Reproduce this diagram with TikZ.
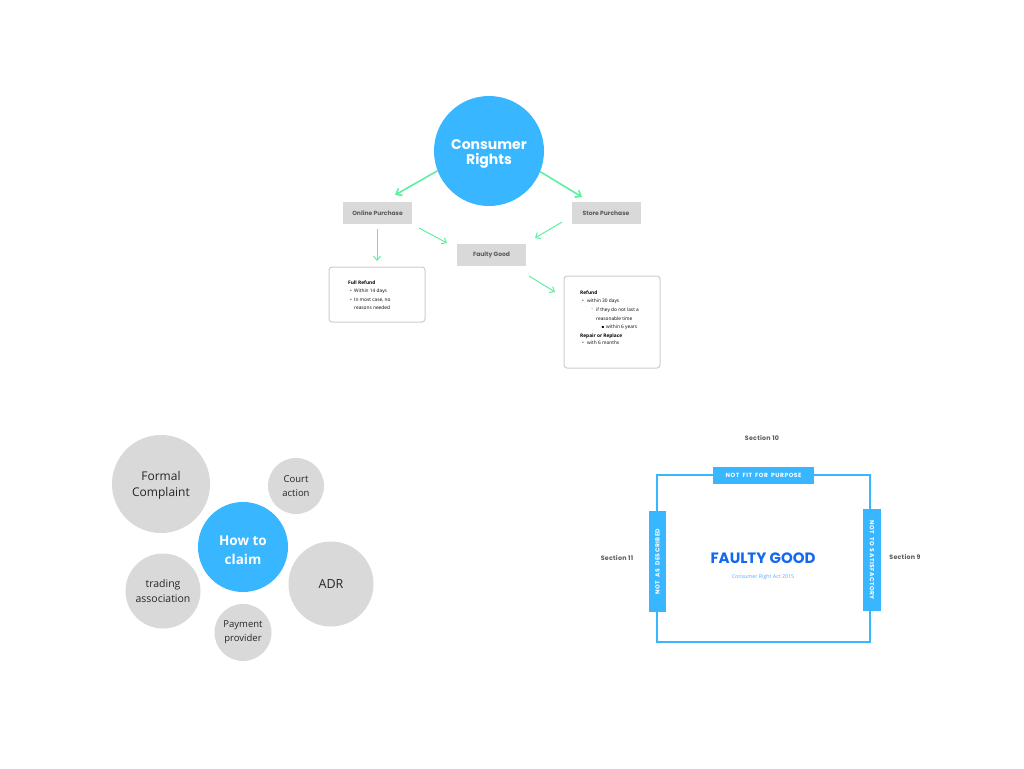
\documentclass[tikz,border=0pt]{standalone}
\usepackage{fontspec}
\setmainfont{Open Sans}
\newfontfamily\pop{Poppins}
\newfontfamily\popsp{Poppins}[LetterSpace=8,WordSpace=1.8]
\newfontfamily\popse{Poppins}[LetterSpace=4]
\newfontfamily\djv{DejaVu Sans}
\usetikzlibrary{arrows.meta}
\definecolor{skyblue}{RGB}{56,182,255}
\definecolor{boxgray}{RGB}{217,217,217}
\definecolor{labgray}{RGB}{90,90,90}
\definecolor{mint}{RGB}{94,240,160}
\definecolor{deepblue}{RGB}{20,104,240}
\definecolor{lightblue}{RGB}{90,168,255}
\definecolor{bordergray}{RGB}{205,205,205}
\begin{document}
\begin{tikzpicture}[x=1pt,y=-1pt,
  gbox/.style={fill=boxgray, minimum width=69pt, minimum height=22pt, inner sep=0pt,
    font=\pop\bfseries\fontsize{6}{7}\selectfont, text=labgray},
  card/.style={draw=bordergray, line width=1pt, rounded corners=3pt, fill=white},
  flow/.style={draw=mint, line width=1.6pt, -{Straight Barb[length=5pt,width=8pt]}},
  flowthin/.style={draw=mint, line width=1pt, -{Straight Barb[length=4pt,width=7pt]}},
  txt/.style={anchor=base west, inner sep=0pt, font=\fontsize{4.8}{6}\selectfont, text=black},
  txtb/.style={txt, font=\bfseries\fontsize{4.8}{6}\selectfont},
  bubble/.style={circle, fill=boxgray, inner sep=0pt, align=center, text=black!85},
  bluebubble/.style={circle, fill=skyblue, inner sep=0pt, align=center, text=white},
  btext/.style={inner sep=0pt, align=center},
  tag/.style={fill=skyblue, inner sep=0pt, text=white, font=\popsp\bfseries\fontsize{6}{7}\selectfont},
  tagtext/.style={inner sep=0pt, text=white, font=\popsp\bfseries\fontsize{6}{7}\selectfont},
  sect/.style={inner sep=0pt, text=labgray, font=\popse\bfseries\fontsize{6.3}{7}\selectfont}
]
\useasboundingbox[fill=white] (0,0) rectangle (1024,768);

% ---------- Consumer rights flow ----------
\node[bluebubble, minimum size=110pt] (cr) at (489,151) {};
\node[btext, text=white, font=\pop\bfseries\fontsize{14}{15}\selectfont] (crt) at (489,153.5) {Consumer\\Rights};
\node[gbox] (online) at (377.5,213) {Online Purchase};
\node[gbox] (store) at (606,213) {Store Purchase};
\node[gbox] (faulty) at (491.5,255) {Faulty Good};

\node[card, minimum width=96pt, minimum height=55pt, inner sep=0pt] (fullref) at (377,294.5) {};
\node[card, minimum width=96pt, minimum height=92pt, inner sep=0pt] (refund) at (612,322) {};

\coordinate (e1) at (395,195);
\coordinate (e2) at (582,197);
\coordinate (s3) at (377,229);
\coordinate (e3) at (377,261);
\coordinate (s4) at (419,228);
\coordinate (e4) at (447,243);
\coordinate (s5) at (562,222);
\coordinate (e5) at (535,238);
\coordinate (s6) at (529,276);
\coordinate (e6) at (555,292);
\draw[flow] (cr.201) -- (e1);
\draw[flow] (cr.-22) -- (e2);
\draw[flowthin] (s3) -- (e3);
\draw[flowthin] (s4) -- (e4);
\draw[flowthin] (s5) -- (e5);
\draw[flowthin] (s6) -- (e6);

% Full refund text
\node[txtb] (fr0) at (348,284.5) {Full Refund};
\node[txt] (fb1) at (350,292) {•};
\node[txt] (fr1) at (354,292) {Within 14 days};
\node[txt] (fb2) at (350,301) {•};
\node[txt] (fr2) at (354,301) {In most case, no};
\node[txt] (fr3) at (354,309) {reasons needed};

% Refund text
\node[txtb] (rf0) at (580,294.5) {Refund};
\node[txt] (rb1) at (582,302) {•};
\node[txt] (rf1) at (587,302) {within 30 days};
\node[txt, font=\djv\fontsize{4}{5}\selectfont] (rb2) at (591,310.5) {◦};
\node[txt] (rf2) at (596,311) {if they do not last a};
\node[txt] (rf3) at (596,320) {reasonable time};
\node[txt, font=\djv\fontsize{4}{5}\selectfont] (rb3) at (601.5,328) {▪};
\node[txt] (rf4) at (606,328) {within 6 years};
\node[txtb] (rf5) at (580,337) {Repair or Replace};
\node[txt] (rb4) at (582,344) {•};
\node[txt] (rf6) at (587,344) {with 6 months};

% ---------- How to claim bubbles ----------
\node[bubble, minimum size=98pt] (formal) at (161,484) {};
\node[btext, font=\fontsize{12}{16}\selectfont, text=black!85] (formalt) at (161,485.5) {Formal\\Complaint};
\node[bubble, minimum size=56pt, font=\fontsize{9.5}{13.5}\selectfont] (court) at (296,486) {Court\\action};
\node[bluebubble, minimum size=90pt] (how) at (243,547) {};
\node[btext, text=white, font=\bfseries\fontsize{13.5}{19}\selectfont] (howt) at (243,550) {How to\\claim};
\node[bubble, minimum size=75pt, font=\fontsize{10.5}{15}\selectfont] (trade) at (163,591) {trading\\association};
\node[bubble, minimum size=85pt, font=\fontsize{12.5}{15}\selectfont] (adr) at (331,584) {ADR};
\node[bubble, minimum size=57pt, font=\fontsize{9.5}{14}\selectfont] (pay) at (243,632.5) {Payment\\provider};

% ---------- Faulty good frame ----------
\draw[draw=skyblue, line width=1.5pt] (657,475) rectangle (870,642);
\node[tag, minimum width=101pt, minimum height=17pt] (fit) at (763.5,475.5) {NOT FIT FOR PURPOSE};
\node[tag, minimum width=17pt, minimum height=101pt] (desc) at (657.5,561.5) {};
\node[tagtext, rotate=90] (desct) at (desc.center) {NOT AS DESCRIBED};
\node[tag, minimum width=18pt, minimum height=102pt] (sat) at (872,560) {};
\node[tagtext, rotate=-90] (satt) at (sat.center) {NOT TO SATISFACTORY};
\node[sect] (s10) at (762,438) {Section 10};
\node[sect] (s11) at (617,558) {Section 11};
\node[sect] (s9) at (905,557) {Section 9};
\node[inner sep=0pt, text=deepblue, font=\pop\bfseries\fontsize{15}{16}\selectfont] (fg) at (763,558) {FAULTY GOOD};
\node[inner sep=0pt, text=lightblue, font=\fontsize{5.3}{6}\selectfont] (act) at (763,577) {Consumer Right Act 2015};
\end{tikzpicture}
\end{document}
